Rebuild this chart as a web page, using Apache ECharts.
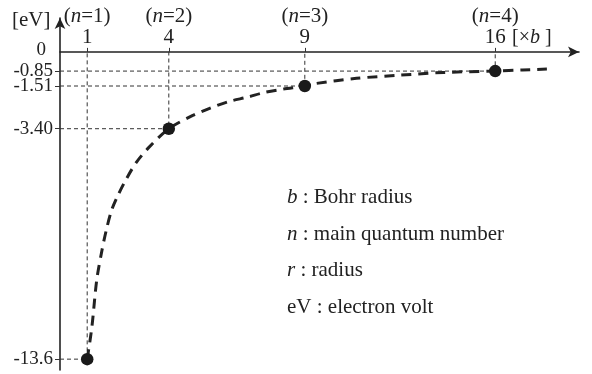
<!DOCTYPE html>
<html>
<head>
<meta charset="utf-8">
<title>Hydrogen energy levels</title>
<script src="https://cdn.jsdelivr.net/npm/echarts@6/dist/echarts.min.js"></script>
<style>
  html, body { margin: 0; padding: 0; background: #fff; }
  #chart { width: 592px; height: 374px; }
</style>
</head>
<body>
<div id="chart"></div>
<script>
// Orbit radius (in units of the Bohr radius b) and energy of each level
const levelN = [1, 2, 3, 4];
const levelR = [1, 4, 9, 16];
const levelE = [-13.6, -3.40, -1.51, -0.85];

// Energy axis ticks and their printed labels
const yTickValues = [0, -0.85, -1.51, -3.40, -13.6];
const yTickLabels = ['0', '-0.85', '-1.51', '-3.40', '-13.6'];

// Points along the dashed energy curve E(r)
const curveR = [1, 1.17, 1.35, 1.54, 1.7, 1.9, 2.15, 2.45, 2.8, 3.25, 4, 4.9, 5.5, 6.2, 6.9, 7.5, 8.2, 9, 9.4, 10.9, 12.5, 14.1, 16, 17, 17.9];
const curveE = [-13.6, -12.2, -10.1, -8.8, -7.9, -7.0, -6.3, -5.6, -4.9, -4.25, -3.40, -2.8, -2.5, -2.2, -2.0, -1.8, -1.65, -1.51, -1.40, -1.17, -1.03, -0.91, -0.85, -0.80, -0.76];

// Legend lines: [italic symbol, description]
const notes = [['b', ' : Bohr radius'], ['n', ' : main quantum number'], ['r', ' : radius'], ['', 'eV : electron volt']];

const FONT = '"Liberation Serif", "Times New Roman", serif';
const INK = '#222';
const TXT = 21;
const R_MAX = 19.08;
const E_MIN = -14.08;
const E_MAX = 1.50;

const chart = echarts.init(document.getElementById('chart'), null, { renderer: 'canvas' });

const guideStyle = { color: '#333', width: 1, type: [4, 3] };

const guideSeries = levelR.map((r, i) => ({
  type: 'line',
  silent: true,
  symbol: 'none',
  z: 1,
  lineStyle: guideStyle,
  data: [[0, levelE[i]], [r, levelE[i]], [r, 0]]
}));

const noteText = notes.map((n, i) => ({
  type: 'text',
  left: 287,
  top: 187 + i * 36.5,
  style: {
    text: (n[0] ? '{i|' + n[0] + '}' : '') + '{t|' + n[1] + '}',
    rich: {
      i: { fontFamily: FONT, fontStyle: 'italic', fontSize: TXT, fill: INK },
      t: { fontFamily: FONT, fontSize: TXT, fill: INK }
    }
  }
}));

// Grid 0 holds the plot; grid 1 is a thin strip lying on E = 0
// that carries the radius labels above the horizontal axis.
const gridLeft = 60, gridRight = 13, gridTop = 18, gridBottom = 4;
const plotH = 374 - gridTop - gridBottom;
const zeroY = gridTop + plotH * E_MAX / (E_MAX - E_MIN);

chart.setOption({
  animation: false,
  backgroundColor: '#fff',
  grid: [
    { left: gridLeft, right: gridRight, top: gridTop, bottom: gridBottom, containLabel: false, outerBoundsMode: 'none' },
    { left: gridLeft, right: gridRight, top: zeroY, height: 1, containLabel: false, outerBoundsMode: 'none' }
  ],
  xAxis: [
    {
      type: 'value',
      gridIndex: 0,
      position: 'top',
      min: 0,
      max: R_MAX,
      axisLine: {
        onZero: true,
        symbol: ['none', 'arrow'],
        symbolSize: [8, 11],
        lineStyle: { color: INK, width: 1.6 }
      },
      axisTick: { show: false },
      axisLabel: { show: false },
      splitLine: { show: false }
    },
    {
      type: 'value',
      gridIndex: 1,
      position: 'top',
      min: 0,
      max: R_MAX,
      axisLine: { show: false, onZero: false },
      axisTick: {
        show: true,
        customValues: levelR,
        length: 4,
        lineStyle: { color: '#333', width: 1 }
      },
      axisLabel: {
        customValues: levelR,
        margin: 4,
        formatter: function (v) {
          const k = levelR.indexOf(v);
          return '{p|(}{i|n}{p|=' + levelN[k] + ')}\n{v|' + v + '}';
        },
        rich: {
          p: { fontFamily: FONT, fontSize: TXT, color: INK, lineHeight: 21 },
          i: { fontFamily: FONT, fontSize: TXT, fontStyle: 'italic', color: INK, lineHeight: 21 },
          v: { fontFamily: FONT, fontSize: TXT, color: INK, lineHeight: 21 }
        }
      },
      splitLine: { show: false }
    }
  ],
  yAxis: [
    {
      type: 'value',
      gridIndex: 0,
      min: E_MIN,
      max: E_MAX,
      axisLine: {
        show: true,
        onZero: false,
        symbol: ['none', 'arrow'],
        symbolSize: [8, 11],
        lineStyle: { color: INK, width: 1.6 }
      },
      axisTick: {
        show: true,
        customValues: levelE,
        length: 5,
        lineStyle: { color: '#333', width: 1 }
      },
      axisLabel: {
        customValues: yTickValues,
        margin: 7,
        formatter: function (v) {
          const k = yTickValues.findIndex(t => Math.abs(t - v) < 1e-6);
          const s = yTickLabels[k];
          return v === 0 ? '{z|' + s + '}' : '{v|' + s + '}';
        },
        rich: {
          v: { fontFamily: FONT, fontSize: 19, color: INK },
          z: { fontFamily: FONT, fontSize: 19, color: INK, padding: [0, 7, 4, 0] }
        }
      },
      splitLine: { show: false }
    },
    {
      type: 'value',
      gridIndex: 1,
      show: false,
      min: 0,
      max: 1
    }
  ],
  series: [
    ...guideSeries,
    {
      type: 'line',
      silent: true,
      symbol: 'none',
      smooth: 0.3,
      z: 2,
      lineStyle: { color: INK, width: 3, type: [10, 7] },
      data: curveR.map((r, i) => [r, curveE[i]])
    },
    {
      type: 'scatter',
      silent: true,
      z: 3,
      symbolSize: 12.5,
      itemStyle: { color: '#1a1a1a', opacity: 1 },
      data: levelR.map((r, i) => [r, levelE[i]])
    }
  ],
  graphic: [
    {
      type: 'text',
      left: 12,
      top: 10,
      style: { text: '[eV]', fontFamily: FONT, fontSize: TXT, fill: INK }
    },
    {
      type: 'text',
      left: 512,
      top: 28,
      style: {
        text: '{p|[×}{i|b}{p| ]}',
        rich: {
          p: { fontFamily: FONT, fontSize: 20, fill: INK },
          i: { fontFamily: FONT, fontSize: 20, fontStyle: 'italic', fill: INK }
        }
      }
    },
    ...noteText
  ]
});
</script>
</body>
</html>
